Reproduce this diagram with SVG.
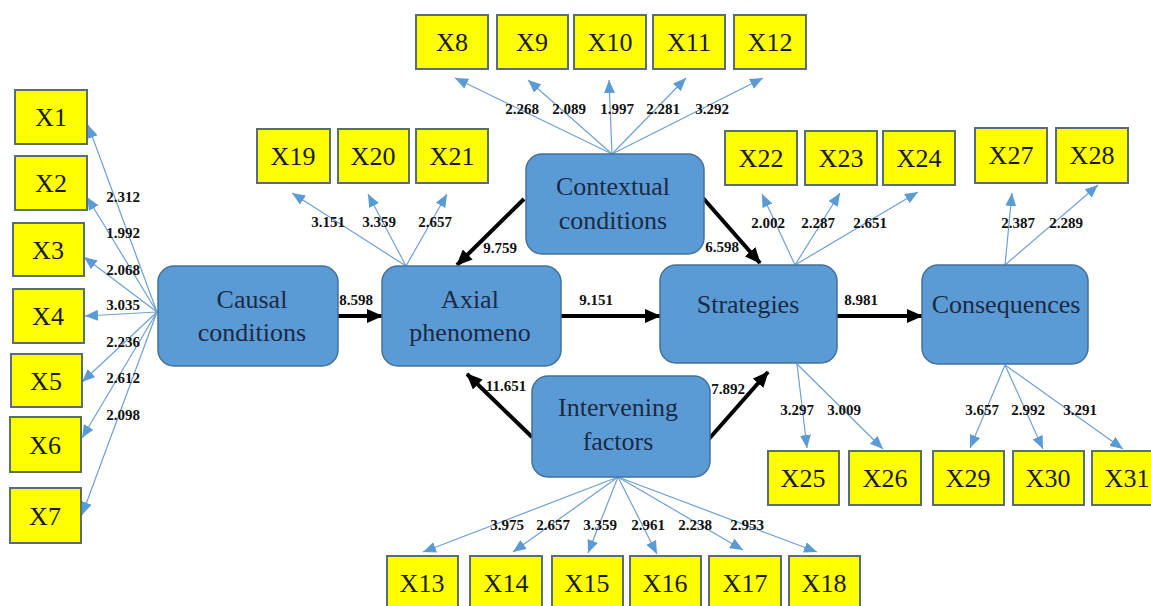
<svg xmlns="http://www.w3.org/2000/svg" width="1151" height="606" viewBox="0 0 1151 606">
<style>
.bg{fill:#ffffff}
.box{fill:#5b9bd5;stroke:#41719c;stroke-width:1.5}
.bt{font-size:26px;fill:#1b2a44;text-anchor:middle}
.ind{fill:#ffff00;stroke:#5a6e6e;stroke-width:2}
.it{font-size:26px;fill:#1a1a1a;text-anchor:middle}
.ln{stroke:#6fa0d2;stroke-width:1.2;fill:none;marker-end:url(#ab)}
.bk{stroke:#000;stroke-width:4;fill:none;marker-end:url(#ak)}
.num{font-size:15px;font-weight:bold;fill:#111;text-anchor:middle}
</style>
<defs>
<marker id="ab" viewBox="0 0 13 11" refX="13" refY="5.5" markerWidth="13" markerHeight="11" markerUnits="userSpaceOnUse" orient="auto"><path d="M0,0 L13,5.5 L0,11 z" fill="#5b9bd5"/></marker>
<marker id="ak" viewBox="0 0 16 14" refX="15" refY="7" markerWidth="16" markerHeight="14" markerUnits="userSpaceOnUse" orient="auto"><path d="M0,0 L16,7 L0,14 z" fill="#000"/></marker>
</defs>
<rect class="bg" x="0" y="0" width="1151" height="606"/>

<g id="connectors" font-family="Liberation Serif, serif">
<line class="ln" x1="157" y1="312" x2="88" y2="125"/>
<line class="ln" x1="157" y1="312" x2="87" y2="197"/>
<line class="ln" x1="157" y1="312" x2="84" y2="257"/>
<line class="ln" x1="157" y1="312" x2="85" y2="316"/>
<line class="ln" x1="157" y1="312" x2="82" y2="382"/>
<line class="ln" x1="157" y1="312" x2="82" y2="438"/>
<line class="ln" x1="157" y1="312" x2="82" y2="515"/>
<line class="ln" x1="612" y1="154" x2="455" y2="78"/>
<line class="ln" x1="612" y1="154" x2="528" y2="80"/>
<line class="ln" x1="612" y1="154" x2="609" y2="80"/>
<line class="ln" x1="612" y1="154" x2="686" y2="78"/>
<line class="ln" x1="612" y1="154" x2="763" y2="78"/>
<line class="ln" x1="406" y1="266" x2="292" y2="193"/>
<line class="ln" x1="406" y1="266" x2="368" y2="194"/>
<line class="ln" x1="406" y1="266" x2="447" y2="194"/>
<line class="ln" x1="795" y1="265" x2="762" y2="194"/>
<line class="ln" x1="795" y1="265" x2="840" y2="193"/>
<line class="ln" x1="795" y1="265" x2="918" y2="192"/>
<line class="ln" x1="1005" y1="265" x2="1012" y2="193"/>
<line class="ln" x1="1005" y1="265" x2="1098" y2="185"/>
<line class="ln" x1="797" y1="364" x2="807" y2="448"/>
<line class="ln" x1="797" y1="364" x2="883" y2="449"/>
<line class="ln" x1="1005" y1="365" x2="970" y2="448"/>
<line class="ln" x1="1005" y1="365" x2="1043" y2="449"/>
<line class="ln" x1="1005" y1="365" x2="1123" y2="449"/>
<line class="ln" x1="618" y1="477" x2="423" y2="552"/>
<line class="ln" x1="618" y1="477" x2="513" y2="552"/>
<line class="ln" x1="618" y1="477" x2="588" y2="553"/>
<line class="ln" x1="618" y1="477" x2="657" y2="554"/>
<line class="ln" x1="618" y1="477" x2="743" y2="550"/>
<line class="ln" x1="618" y1="477" x2="817" y2="552"/>

<line class="bk" x1="338" y1="316" x2="382" y2="316"/>
<line class="bk" x1="561" y1="316" x2="660" y2="316"/>
<line class="bk" x1="837" y1="316" x2="922" y2="316"/>
<line class="bk" x1="524" y1="199" x2="457" y2="265"/>
<line class="bk" x1="703" y1="198" x2="760" y2="263"/>
<line class="bk" x1="532" y1="437" x2="467" y2="374"/>
<line class="bk" x1="708" y1="440" x2="768" y2="372"/>

<text class="num" x="123" y="202">2.312</text>
<text class="num" x="123" y="238">1.992</text>
<text class="num" x="123" y="275">2.068</text>
<text class="num" x="123" y="310">3.035</text>
<text class="num" x="123" y="347">2.236</text>
<text class="num" x="123" y="383">2.612</text>
<text class="num" x="123" y="420">2.098</text>
<text class="num" x="522" y="114">2.268</text>
<text class="num" x="569" y="114">2.089</text>
<text class="num" x="617" y="114">1.997</text>
<text class="num" x="663" y="114">2.281</text>
<text class="num" x="712" y="114">3.292</text>
<text class="num" x="328" y="227">3.151</text>
<text class="num" x="379" y="227">3.359</text>
<text class="num" x="435" y="227">2.657</text>
<text class="num" x="768" y="228">2.002</text>
<text class="num" x="818" y="228">2.287</text>
<text class="num" x="870" y="228">2.651</text>
<text class="num" x="1018" y="228">2.387</text>
<text class="num" x="1066" y="228">2.289</text>
<text class="num" x="797" y="415">3.297</text>
<text class="num" x="844" y="415">3.009</text>
<text class="num" x="982" y="415">3.657</text>
<text class="num" x="1028" y="415">2.992</text>
<text class="num" x="1080" y="415">3.291</text>
<text class="num" x="507" y="530">3.975</text>
<text class="num" x="553" y="530">2.657</text>
<text class="num" x="600" y="530">3.359</text>
<text class="num" x="648" y="530">2.961</text>
<text class="num" x="695" y="530">2.238</text>
<text class="num" x="747" y="530">2.953</text>
<text class="num" x="356" y="305">8.598</text>
<text class="num" x="596" y="305">9.151</text>
<text class="num" x="861" y="305">8.981</text>
<text class="num" x="500" y="253">9.759</text>
<text class="num" x="722" y="252">6.598</text>
<text class="num" x="506" y="391">11.651</text>
<text class="num" x="728" y="394">7.892</text>
</g>

<g font-family="Liberation Serif, serif">
<g id="causal"><rect class="box" x="158" y="266" width="180" height="100" rx="16"/><text class="bt" x="252" y="308">Causal</text><text class="bt" x="252" y="341">conditions</text></g>
<g id="axial"><rect class="box" x="382" y="266" width="179" height="100" rx="16"/><text class="bt" x="470" y="308">Axial</text><text class="bt" x="470" y="341">phenomeno</text></g>
<g id="contextual"><rect class="box" x="526" y="154" width="178" height="100" rx="16"/><text class="bt" x="613" y="195">Contextual</text><text class="bt" x="613" y="229">conditions</text></g>
<g id="strategies"><rect class="box" x="660" y="265" width="177" height="98" rx="16"/><text class="bt" x="748" y="313">Strategies</text></g>
<g id="consequences"><rect class="box" x="922" y="265" width="166" height="99" rx="16"/><text class="bt" x="1006" y="313">Consequences</text></g>
<g id="intervening"><rect class="box" x="532" y="376" width="178" height="101" rx="16"/><text class="bt" x="618" y="416">Intervening</text><text class="bt" x="618" y="450">factors</text></g>
</g>

<g font-family="Liberation Serif, serif">
<g id="x1"><rect class="ind" x="15" y="90" width="72" height="54"/><text class="it" x="51" y="126">X1</text></g>
<g id="x2"><rect class="ind" x="15" y="156" width="72" height="54"/><text class="it" x="51" y="192">X2</text></g>
<g id="x3"><rect class="ind" x="13" y="223" width="71" height="53"/><text class="it" x="48" y="259">X3</text></g>
<g id="x4"><rect class="ind" x="13" y="289" width="71" height="54"/><text class="it" x="48" y="325">X4</text></g>
<g id="x5"><rect class="ind" x="11" y="354" width="71" height="53"/><text class="it" x="46" y="390">X5</text></g>
<g id="x6"><rect class="ind" x="10" y="417" width="71" height="55"/><text class="it" x="45" y="454">X6</text></g>
<g id="x7"><rect class="ind" x="10" y="488" width="71" height="55"/><text class="it" x="45" y="525">X7</text></g>
<g id="x8"><rect class="ind" x="416" y="15" width="72" height="54"/><text class="it" x="452" y="51">X8</text></g>
<g id="x9"><rect class="ind" x="497" y="15" width="71" height="54"/><text class="it" x="532" y="51">X9</text></g>
<g id="x10"><rect class="ind" x="574" y="15" width="72" height="54"/><text class="it" x="610" y="51">X10</text></g>
<g id="x11"><rect class="ind" x="653" y="15" width="72" height="54"/><text class="it" x="689" y="51">X11</text></g>
<g id="x12"><rect class="ind" x="734" y="15" width="72" height="54"/><text class="it" x="770" y="51">X12</text></g>
<g id="x13"><rect class="ind" x="387" y="556" width="71" height="54"/><text class="it" x="422" y="592">X13</text></g>
<g id="x14"><rect class="ind" x="470" y="556" width="72" height="54"/><text class="it" x="506" y="592">X14</text></g>
<g id="x15"><rect class="ind" x="552" y="556" width="71" height="54"/><text class="it" x="587" y="592">X15</text></g>
<g id="x16"><rect class="ind" x="630" y="556" width="71" height="54"/><text class="it" x="665" y="592">X16</text></g>
<g id="x17"><rect class="ind" x="709" y="556" width="72" height="54"/><text class="it" x="745" y="592">X17</text></g>
<g id="x18"><rect class="ind" x="789" y="556" width="71" height="54"/><text class="it" x="824" y="592">X18</text></g>
<g id="x19"><rect class="ind" x="257" y="129" width="73" height="54"/><text class="it" x="293" y="165">X19</text></g>
<g id="x20"><rect class="ind" x="338" y="129" width="71" height="54"/><text class="it" x="373" y="165">X20</text></g>
<g id="x21"><rect class="ind" x="416" y="129" width="72" height="54"/><text class="it" x="452" y="165">X21</text></g>
<g id="x22"><rect class="ind" x="725" y="131" width="72" height="54"/><text class="it" x="761" y="167">X22</text></g>
<g id="x23"><rect class="ind" x="805" y="131" width="72" height="54"/><text class="it" x="841" y="167">X23</text></g>
<g id="x24"><rect class="ind" x="883" y="131" width="72" height="54"/><text class="it" x="919" y="167">X24</text></g>
<g id="x25"><rect class="ind" x="768" y="451" width="71" height="54"/><text class="it" x="803" y="487">X25</text></g>
<g id="x26"><rect class="ind" x="849" y="451" width="72" height="54"/><text class="it" x="885" y="487">X26</text></g>
<g id="x27"><rect class="ind" x="975" y="128" width="72" height="55"/><text class="it" x="1011" y="164">X27</text></g>
<g id="x28"><rect class="ind" x="1056" y="128" width="72" height="55"/><text class="it" x="1092" y="164">X28</text></g>
<g id="x29"><rect class="ind" x="933" y="451" width="71" height="54"/><text class="it" x="968" y="487">X29</text></g>
<g id="x30"><rect class="ind" x="1013" y="451" width="71" height="54"/><text class="it" x="1048" y="487">X30</text></g>
<g id="x31"><rect class="ind" x="1092" y="451" width="71" height="54"/><text class="it" x="1127" y="487">X31</text></g>
</g>
</svg>
